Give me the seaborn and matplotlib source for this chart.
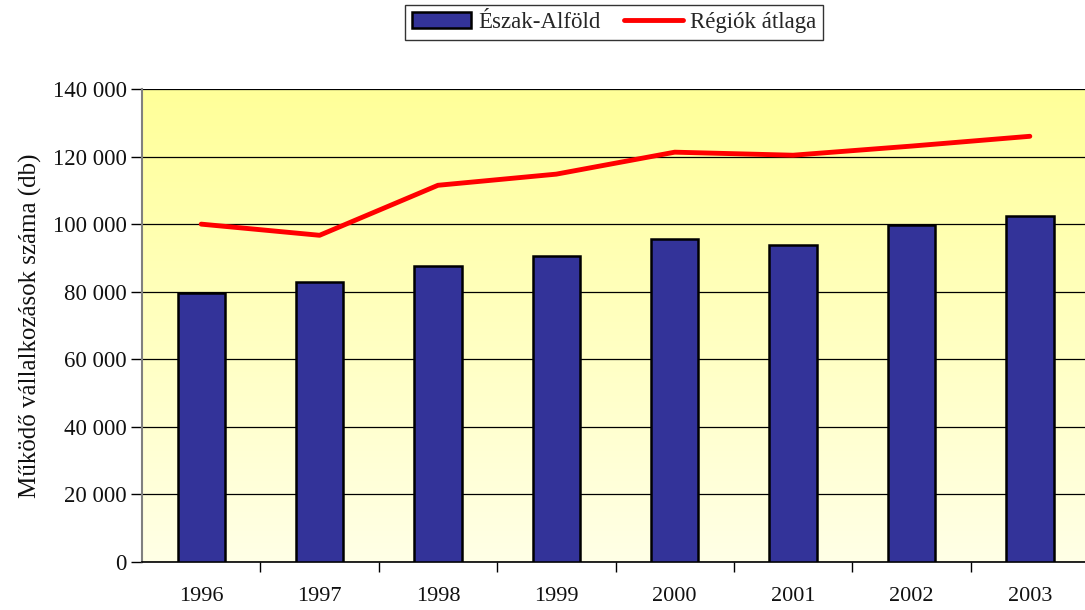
import numpy as np
import pandas as pd
import matplotlib
matplotlib.use("Agg")
import matplotlib.pyplot as plt
import matplotlib.ticker as mticker
from matplotlib.colors import LinearSegmentedColormap
import seaborn as sns

years = ["1996", "1997", "1998", "1999", "2000", "2001", "2002", "2003"]
eszak_alfold = [79600, 82800, 87500, 90500, 95500, 93800, 99700, 102300]
regiok_atlaga = [100000, 96700, 111500, 114800, 121300, 120400, 123100, 126000]
ylabel = "Működő vállalkozások száma (db)"
bar_label = "Észak-Alföld"
line_label = "Régiók átlaga"

df = pd.DataFrame({"year": years, "bar": eszak_alfold, "line": regiok_atlaga})

sns.set_theme(style="white")
plt.rcParams["font.family"] = ["Liberation Serif", "DejaVu Serif"]

fig = plt.figure(figsize=(10.85, 6.10), dpi=100)
ax = fig.add_axes([0.1309, 0.0787, 0.8728, 0.7754])

# gradient background
cmap = LinearSegmentedColormap.from_list("bg", ["#FFFFE6", "#FFFF99"])
grad = np.linspace(0, 1, 256).reshape(-1, 1)
ax.imshow(grad, extent=[0, 1, 0, 1], transform=ax.transAxes, cmap=cmap,
          aspect="auto", origin="lower", zorder=0)

sns.barplot(data=df, x="year", y="bar", color="#333399", width=0.4,
            edgecolor="black", linewidth=1.8, saturation=1, ax=ax, zorder=3,
            label=bar_label)
sns.lineplot(data=df, x="year", y="line", color="#FF0000", linewidth=3.5,
             ax=ax, zorder=4, label=line_label, sort=False)

ax.set_xlim(-0.5, 7.5)
ax.set_ylim(0, 140000)
ax.set_yticks(np.arange(0, 140001, 20000))
ax.yaxis.set_major_formatter(mticker.FuncFormatter(lambda v, p: f"{int(v):,}".replace(",", " ")))
ax.grid(axis="y", color="black", linewidth=0.9, zorder=1)
ax.set_axisbelow(True)

ax.set_xlabel("")
ax.set_ylabel(ylabel, fontsize=18, color="#111111", labelpad=8)

ax.tick_params(axis="y", which="major", left=True, length=8, width=1, color="black",
               labelsize=16.5, labelcolor="#111111", pad=3, direction="out")
ax.tick_params(axis="x", which="major", bottom=False, labelsize=16,
               labelcolor="#111111", pad=12)
ax.set_xticks(np.arange(0.5, 7.5, 1.0), minor=True)
ax.tick_params(axis="x", which="minor", bottom=True, length=7, width=1,
               color="black", direction="out")

for s in ["top", "right"]:
    ax.spines[s].set_visible(False)
ax.spines["left"].set_color("#808080")
ax.spines["left"].set_linewidth(1.5)
ax.spines["bottom"].set_color("black")
ax.spines["bottom"].set_linewidth(1.2)

if ax.legend_:
    ax.legend_.remove()
handles, labels = ax.get_legend_handles_labels()
order = [labels.index(bar_label), labels.index(line_label)]
leg = fig.legend([handles[i] for i in order], [labels[i] for i in order],
                 loc="upper center", bbox_to_anchor=(0.566, 0.992),
                 borderaxespad=0.0,
                 ncol=2, frameon=True, fancybox=False, fontsize=16.5,
                 edgecolor="black", handlelength=2.6, handletextpad=0.3,
                 columnspacing=1.0, borderpad=0.3)
leg.get_frame().set_linewidth(1.0)

fig.savefig("out.png", dpi=100)
